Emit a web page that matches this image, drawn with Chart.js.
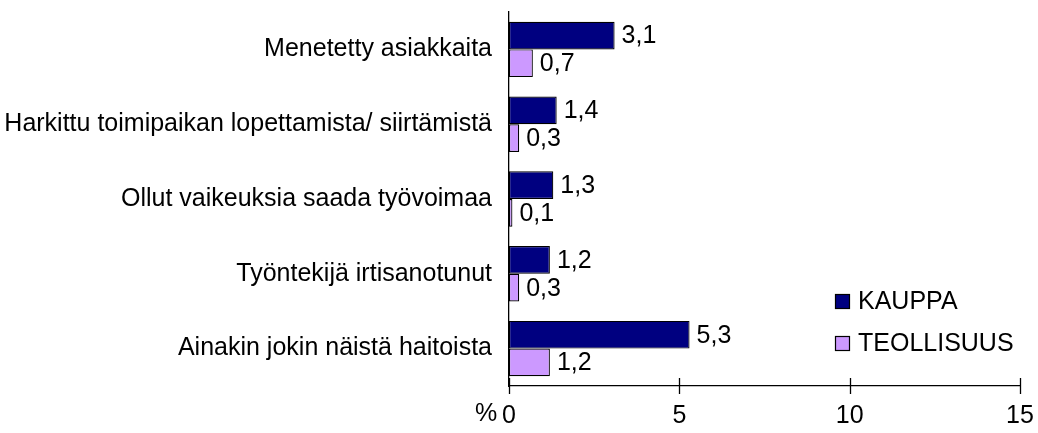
<!DOCTYPE html>
<html>
<head>
<meta charset="utf-8">
<script src="https://cdn.jsdelivr.net/npm/chart.js@4.4.1/dist/chart.umd.min.js"></script>
<style>
  html, body { margin: 0; padding: 0; background: #fff; }
  #wrap { width: 1038px; height: 433px; }
</style>
</head>
<body>
<div id="wrap"><canvas id="chart" width="1038" height="433"></canvas></div>
<script>
const categories = [
  "Menetetty asiakkaita",
  "Harkittu toimipaikan lopettamista/ siirtämistä",
  "Ollut vaikeuksia saada työvoimaa",
  "Työntekijä irtisanotunut",
  "Ainakin jokin näistä haitoista"
];
const kauppa = [3.1, 1.4, 1.3, 1.2, 5.3];
const teollisuus = [0.7, 0.3, 0.1, 0.3, 1.2];
const seriesNames = ["KAUPPA", "TEOLLISUUS"];
const xTicks = [0, 5, 10, 15];

const FONT = "'Liberation Sans', Arial, sans-serif";
const FS = 25;

// value labels with comma decimals
const valueLabels = {
  id: "valueLabels",
  afterDatasetsDraw(chart) {
    const ctx = chart.ctx;
    ctx.save();
    ctx.font = FS + "px " + FONT;
    ctx.fillStyle = "#000";
    ctx.textBaseline = "middle";
    ctx.textAlign = "left";
    chart.data.datasets.forEach((ds, i) => {
      chart.getDatasetMeta(i).data.forEach((bar, j) => {
        const txt = ds.data[j].toFixed(1).replace(".", ",");
        ctx.fillText(txt, bar.x + 7, bar.y + 1);
      });
    });
    ctx.restore();
  }
};

// axis ticks crossing the line, "%" label and legend
const extras = {
  id: "extras",
  afterDraw(chart) {
    const ctx = chart.ctx;
    const x = chart.scales.x;
    const area = chart.chartArea;
    ctx.save();
    ctx.strokeStyle = "#000";
    ctx.lineWidth = 1.3;
    xTicks.forEach(v => {
      const px = Math.round(x.getPixelForValue(v)) + 0.5;
      ctx.beginPath();
      ctx.moveTo(px, area.bottom - 8);
      ctx.lineTo(px, area.bottom + 8);
      ctx.stroke();
    });
    ctx.font = FS + "px " + FONT;
    ctx.fillStyle = "#000";
    ctx.textAlign = "center";
    ctx.textBaseline = "middle";
    ctx.fillText("%", 486, 414);

    // legend
    const colors = chart.data.datasets.map(d => d.backgroundColor);
    const rows = [301, 343];
    ctx.textAlign = "left";
    ctx.lineWidth = 1.2;
    seriesNames.forEach((name, i) => {
      ctx.fillStyle = colors[i];
      ctx.fillRect(835, rows[i] - 7, 15, 15);
      ctx.strokeRect(835.5, rows[i] - 6.5, 14, 14);
      ctx.fillStyle = "#000";
      ctx.fillText(name, 858, rows[i] + 1);
    });
    ctx.restore();
  }
};

new Chart(document.getElementById("chart").getContext("2d"), {
  type: "bar",
  data: {
    labels: categories,
    datasets: [
      {
        label: seriesNames[0],
        data: kauppa,
        backgroundColor: "#000080",
        borderColor: "#000",
        borderWidth: 1.2,
        borderSkipped: false
      },
      {
        label: seriesNames[1],
        data: teollisuus,
        backgroundColor: "#CC99FF",
        borderColor: "#000",
        borderWidth: 1.2,
        borderSkipped: false
      }
    ]
  },
  options: {
    indexAxis: "y",
    responsive: false,
    animation: false,
    layout: { padding: { top: 12, right: 18, bottom: 0, left: 0 } },
    datasets: { bar: { categoryPercentage: 0.74, barPercentage: 1 } },
    scales: {
      x: {
        min: 0,
        max: 15,
        afterBuildTicks(scale) {
          scale.ticks = xTicks.map(v => ({ value: v }));
        },
        afterFit(scale) {
          scale.height = 47;
          scale.paddingLeft = 0;
          scale.paddingRight = 0;
        },
        border: { display: true, color: "#000", width: 1.3 },
        grid: { display: false },
        ticks: {
          color: "#000",
          font: { family: FONT, size: FS },
          padding: 7,
          maxRotation: 0
        }
      },
      y: {
        afterFit(scale) {
          scale.width = 509;
          scale.paddingTop = 0;
          scale.paddingBottom = 0;
        },
        border: { display: true, color: "#000", width: 1.3 },
        grid: { display: false },
        ticks: {
          color: "#000",
          font: { family: FONT, size: FS },
          padding: 9
        }
      }
    },
    plugins: {
      legend: { display: false },
      tooltip: { enabled: false }
    }
  },
  plugins: [valueLabels, extras]
});
</script>
</body>
</html>
